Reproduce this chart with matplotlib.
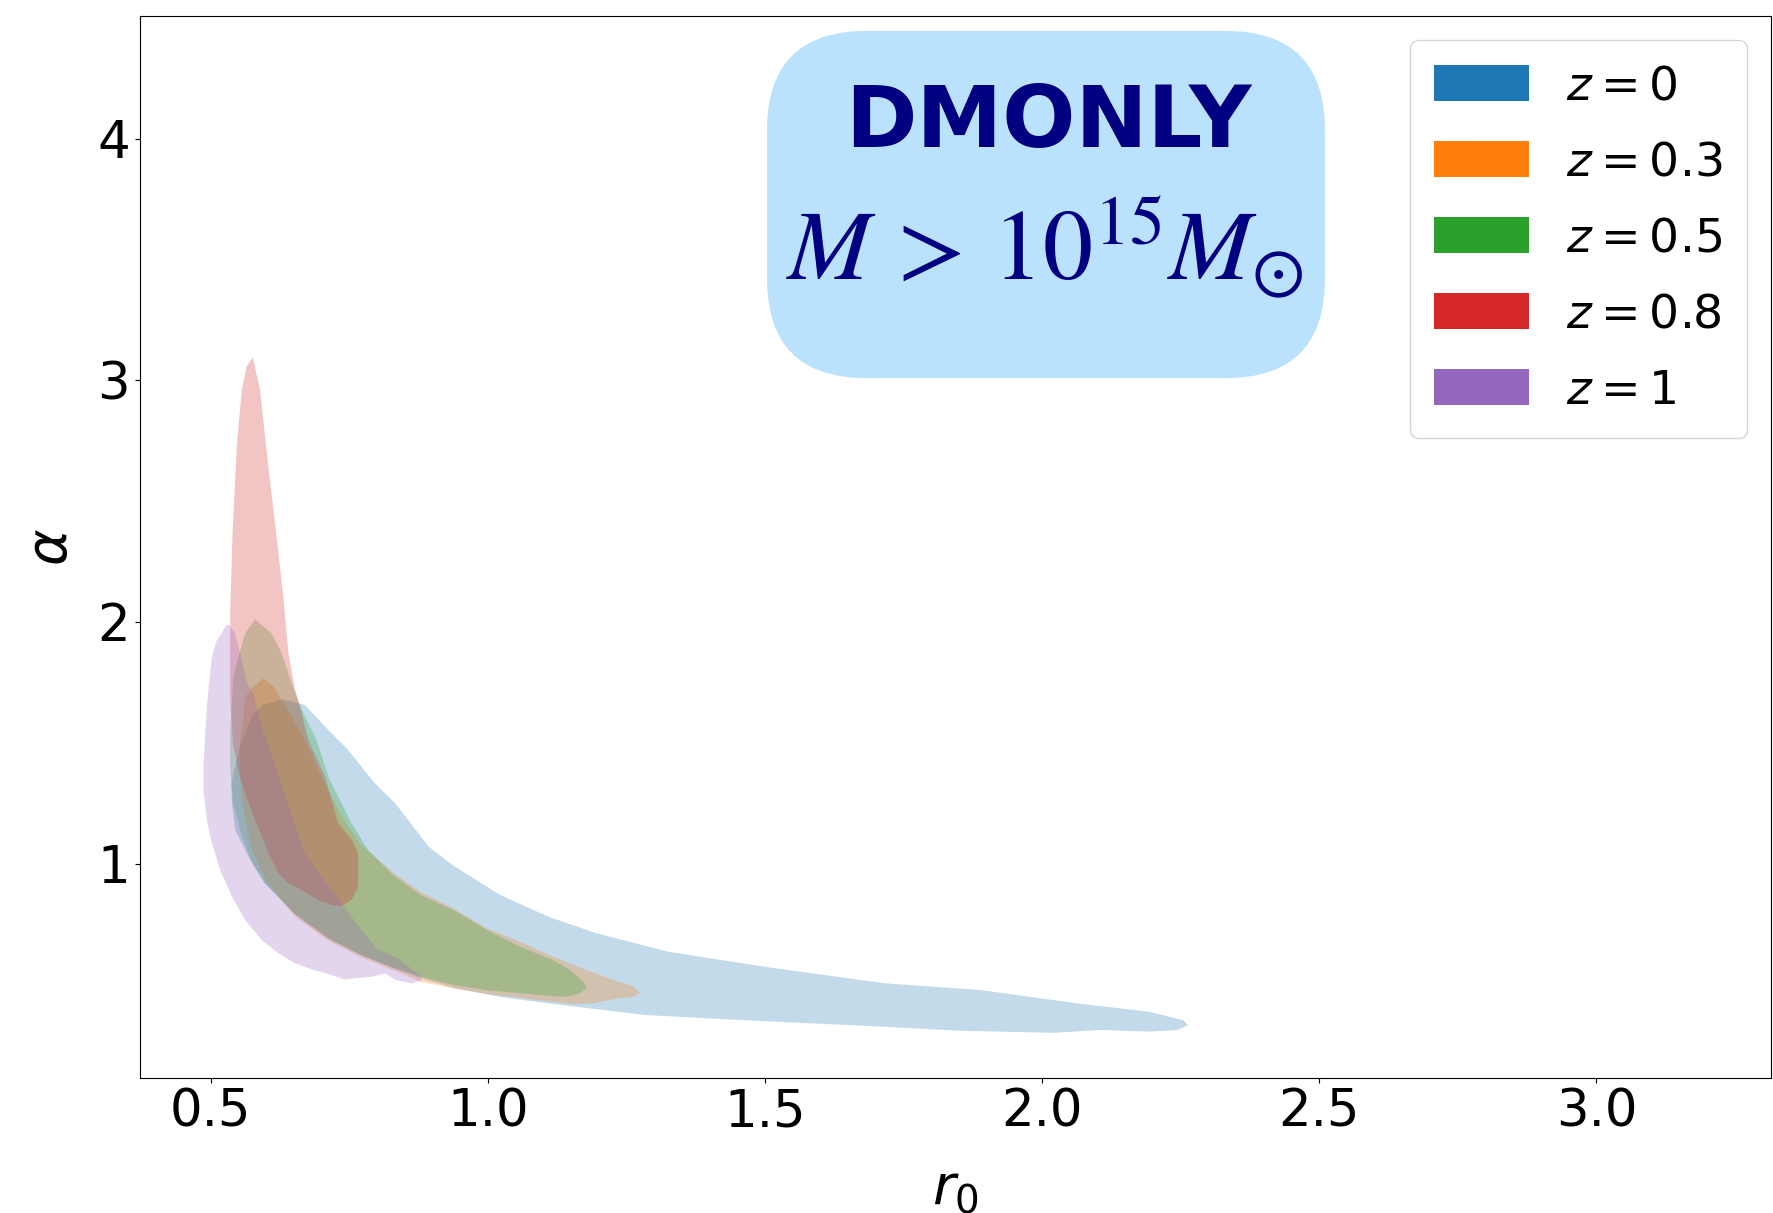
import matplotlib
matplotlib.use("Agg")
import matplotlib.pyplot as plt
from matplotlib.patches import FancyBboxPatch, Patch

# Outlines of the KDE confidence regions in the (r0, alpha) plane
# -----------------------------------------------------------------------------

redshift_labels = ["$z = 0$", "$z = 0.3$", "$z = 0.5$", "$z = 0.8$", "$z = 1$"]
colors = ["tab:blue", "tab:orange", "tab:green", "tab:red", "tab:purple"]

r0_z0 = [0.537, 0.544, 0.553, 0.562, 0.574, 0.592, 0.631, 0.670, 0.712, 0.748,
         0.796, 0.833, 0.893, 0.936, 0.998, 1.022, 1.109, 1.195, 1.325, 1.498,
         1.716, 1.890, 2.063, 2.193, 2.254, 2.263, 2.245, 2.193, 2.106, 2.020,
         1.846, 1.716, 1.456, 1.282, 1.109, 1.022, 0.941, 0.893, 0.833, 0.772,
         0.712, 0.652, 0.622, 0.598, 0.568, 0.544, 0.538]
alpha_z0 = [1.332, 1.401, 1.484, 1.539, 1.608, 1.656, 1.680, 1.656, 1.553, 1.470,
            1.332, 1.249, 1.070, 0.994, 0.904, 0.870, 0.780, 0.712, 0.635, 0.573,
            0.504, 0.476, 0.421, 0.386, 0.352, 0.331, 0.311, 0.304, 0.311, 0.299,
            0.308, 0.324, 0.352, 0.373, 0.421, 0.448, 0.483, 0.515, 0.563, 0.620,
            0.690, 0.790, 0.863, 0.918, 1.028, 1.139, 1.249]

r0_z03 = [0.595, 0.613, 0.628, 0.646, 0.668, 0.700, 0.735, 0.770, 0.830, 0.878,
          0.938, 0.998, 1.058, 1.118, 1.178, 1.226, 1.263, 1.275, 1.263, 1.226,
          1.190, 1.154, 1.088, 0.998, 0.938, 0.878, 0.833, 0.772, 0.712, 0.652,
          0.625, 0.600, 0.575, 0.560, 0.553, 0.553, 0.559, 0.562, 0.577]
alpha_z03 = [1.767, 1.732, 1.677, 1.608, 1.520, 1.360, 1.200, 1.080, 0.960, 0.883,
             0.814, 0.732, 0.676, 0.614, 0.559, 0.518, 0.490, 0.465, 0.448, 0.438,
             0.421, 0.418, 0.435, 0.460, 0.483, 0.511, 0.555, 0.610, 0.680, 0.780,
             0.855, 0.930, 1.050, 1.200, 1.350, 1.511, 1.608, 1.691, 1.732]

r0_z05 = [0.580, 0.610, 0.628, 0.646, 0.664, 0.691, 0.712, 0.754, 0.784, 0.830,
          0.878, 0.938, 0.998, 1.058, 1.118, 1.148, 1.172, 1.178, 1.166, 1.142,
          1.118, 1.058, 0.998, 0.938, 0.890, 0.833, 0.772, 0.712, 0.652, 0.622,
          0.598, 0.575, 0.555, 0.540, 0.535, 0.535, 0.541, 0.550, 0.562]
alpha_z05 = [2.011, 1.953, 1.870, 1.746, 1.636, 1.511, 1.359, 1.166, 1.056, 0.950,
             0.870, 0.807, 0.725, 0.655, 0.600, 0.559, 0.511, 0.483, 0.463, 0.448,
             0.451, 0.463, 0.476, 0.497, 0.525, 0.565, 0.620, 0.690, 0.790, 0.860,
             0.915, 1.000, 1.120, 1.250, 1.400, 1.550, 1.774, 1.856, 1.953]

r0_z08 = [0.576, 0.589, 0.604, 0.619, 0.631, 0.640, 0.652, 0.664, 0.676, 0.706,
          0.730, 0.754, 0.766, 0.766, 0.754, 0.736, 0.718, 0.694, 0.664, 0.640,
          0.622, 0.610, 0.592, 0.580, 0.565, 0.550, 0.540, 0.535, 0.535, 0.539,
          0.547, 0.556, 0.565]
alpha_z08 = [3.095, 2.960, 2.640, 2.350, 2.100, 1.873, 1.721, 1.625, 1.511, 1.359,
             1.166, 1.100, 1.042, 0.904, 0.849, 0.824, 0.828, 0.849, 0.890, 0.918,
             0.959, 1.014, 1.111, 1.180, 1.270, 1.380, 1.500, 1.680, 2.030, 2.350,
             2.730, 2.960, 3.060]

r0_z1 = [0.532, 0.544, 0.555, 0.565, 0.577, 0.592, 0.613, 0.631, 0.652, 0.670,
         0.700, 0.736, 0.772, 0.802, 0.833, 0.865, 0.881, 0.880, 0.863, 0.833,
         0.815, 0.790, 0.760, 0.742, 0.712, 0.682, 0.652, 0.622, 0.592, 0.562,
         0.538, 0.517, 0.502, 0.493, 0.487, 0.487, 0.490, 0.493, 0.497, 0.502,
         0.511, 0.520, 0.527]
alpha_z1 = [1.990, 1.953, 1.850, 1.750, 1.700, 1.565, 1.430, 1.300, 1.160, 1.042,
            0.945, 0.835, 0.725, 0.642, 0.614, 0.560, 0.531, 0.515, 0.504, 0.518,
            0.545, 0.531, 0.525, 0.520, 0.542, 0.562, 0.587, 0.628, 0.683, 0.766,
            0.863, 0.973, 1.084, 1.180, 1.300, 1.415, 1.530, 1.649, 1.750, 1.856,
            1.925, 1.953, 1.985]

regions = [(r0_z0, alpha_z0), (r0_z03, alpha_z03), (r0_z05, alpha_z05),
           (r0_z08, alpha_z08), (r0_z1, alpha_z1)]


# Plot
# -----------------------------------------------------------------------------

fig = plt.figure(figsize=(17.73, 12.13), dpi=100)
ax = fig.add_axes([0.0787, 0.1113, 0.9202, 0.8755])

for (r0, alpha), color in zip(regions, colors):
    ax.fill(r0, alpha, color=color, alpha=0.27, lw=0)

ax.set_xlim(0.3715, 3.315)
ax.set_ylim(0.112, 4.509)
ax.set_xticks([0.5, 1.0, 1.5, 2.0, 2.5, 3.0])
ax.set_yticks([1, 2, 3, 4])
ax.tick_params(labelsize=37)

ax.set_xlabel("$r_0$", fontsize=40)
ax.set_ylabel(r"$\alpha$", fontsize=40)
ax.xaxis.set_label_coords(0.5, -0.079)
ax.yaxis.set_label_coords(-0.037, 0.5)

# sample box
box = FancyBboxPatch((0.3846, 0.659), 0.342, 0.327,
                     boxstyle="round,pad=0,rounding_size=0.061",
                     mutation_aspect=1.536, transform=ax.transAxes,
                     facecolor="#bbe2fc", edgecolor="none", zorder=3)
ax.add_patch(box)
ax.text(0.557, 0.899, "DMONLY", transform=ax.transAxes, ha="center",
        va="center", fontsize=62, fontweight="bold", color="navy", zorder=4)
ax.text(0.5547, 0.751, r"$M\,>\,10^{15}M_{\odot}$", transform=ax.transAxes,
        ha="center", va="baseline", fontsize=72, color="navy",
        math_fontfamily="stix", zorder=4)

handles = [Patch(facecolor=c, label=l) for c, l in zip(colors, redshift_labels)]
ax.legend(handles=handles, loc="upper right", fontsize=34, handlelength=2.0,
          handleheight=0.8, labelspacing=0.66, borderpad=0.52)

fig.savefig("out.png", dpi=100)
